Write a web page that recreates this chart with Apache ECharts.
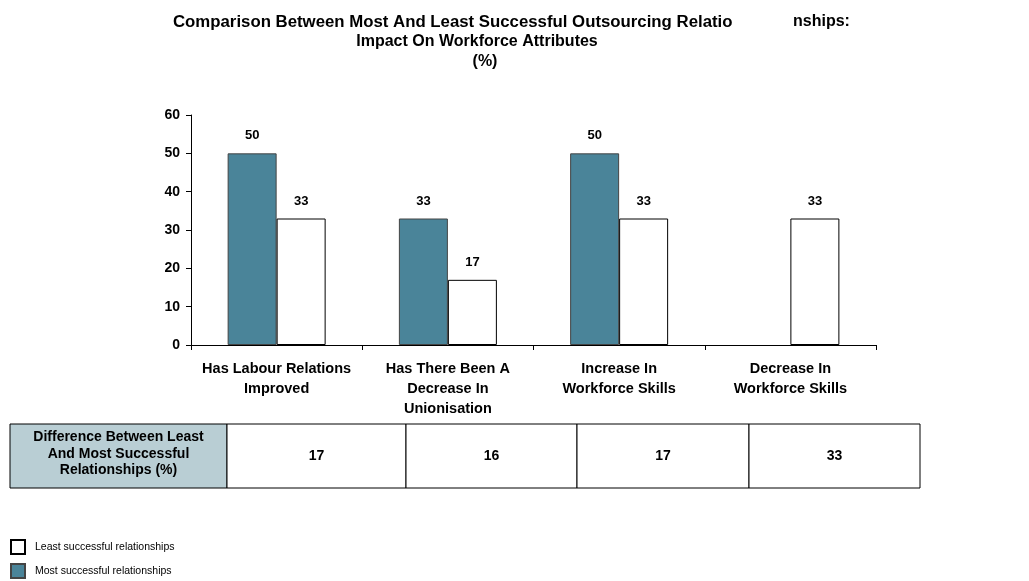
<!DOCTYPE html>
<html><head><meta charset="utf-8">
<script src="https://cdn.jsdelivr.net/npm/echarts@6/dist/echarts.min.js"></script>
<style>html,body{margin:0;padding:0;background:#fff}#c{width:1029px;height:581px}</style>
</head><body><div id="c"></div>
<script>
var categories = ['Has Labour Relations\nImproved', 'Has There Been A\nDecrease In\nUnionisation', 'Increase In\nWorkforce Skills', 'Decrease In\nWorkforce Skills'];
var mostSuccessful = [50, 33, 50, null];
var leastSuccessful = [33, 17, 33, 33];
var differences = [17, 16, 17, 33];
var tableLabel = 'Difference Between Least\nAnd Most Successful\nRelationships (%)';
var yTicks = [0, 10, 20, 30, 40, 50, 60];
var titleLine1 = 'Comparison Between Most And Least Successful Outsourcing Relatio';
var titleLine1b = 'nships:';
var titleLine2 = 'Impact On Workforce Attributes';
var titleLine3 = '(%)';

var FONT = '"Liberation Sans", Arial, sans-serif';
var chart = echarts.init(document.getElementById('c'), null, {renderer: 'canvas'});

// table graphic
var cellX = [10, 227, 406, 577, 749, 920];
var tY = 424, tH = 64;
var graphics = [];
graphics.push({type: 'rect', shape: {x: cellX[0], y: tY, width: cellX[1] - cellX[0], height: tH}, style: {fill: '#b9ced4', stroke: '#000', lineWidth: 1}});
graphics.push({type: 'text', x: (cellX[0] + cellX[1]) / 2, y: tY + tH / 2 - 2, style: {text: tableLabel, font: 'bold 14px ' + FONT, fill: '#000', align: 'center', verticalAlign: 'middle', lineHeight: 16.5}});
differences.forEach(function (d, i) {
  graphics.push({type: 'rect', shape: {x: cellX[i + 1], y: tY, width: cellX[i + 2] - cellX[i + 1], height: tH}, style: {fill: '#fff', stroke: '#000', lineWidth: 1}});
  graphics.push({type: 'text', x: (cellX[i + 1] + cellX[i + 2]) / 2, y: tY + tH / 2, style: {text: String(d), font: 'bold 14px ' + FONT, fill: '#000', align: 'center', verticalAlign: 'middle'}});
});

var titleStyle = {fontFamily: FONT, fontWeight: 'bold', fontSize: 16, color: '#000'};
var titleStyle1 = {fontFamily: FONT, fontWeight: 'bold', fontSize: 16.8, color: '#000'};
chart.setOption({
  animation: false,
  backgroundColor: '#fff',
  title: [
    {text: titleLine1, left: 173, top: 14, padding: 0, textStyle: titleStyle1},
    {text: titleLine1b, left: 793, top: 14, padding: 0, textStyle: titleStyle},
    {text: titleLine2, left: 477, top: 34, padding: 0, textAlign: 'center', textStyle: titleStyle},
    {text: titleLine3, left: 485, top: 54, padding: 0, textAlign: 'center', textStyle: titleStyle}
  ],
  legend: {
    orient: 'vertical', left: 10, top: 539, padding: 0, itemWidth: 14, itemHeight: 14, itemGap: 8,
    data: ['Least successful relationships', 'Most successful relationships'],
    textStyle: {fontFamily: FONT, fontSize: 10.5, color: '#000', padding: [0, 0, 0, 5]},
    icon: 'rect'
  },
  grid: {left: 191, right: 153, top: 115, bottom: 236},
  xAxis: {
    type: 'category', data: categories,
    axisLine: {lineStyle: {color: '#000', width: 1}},
    axisTick: {show: true, length: 5, interval: 0, lineStyle: {color: '#000'}},
    axisLabel: {interval: 0, color: '#000', fontFamily: FONT, fontWeight: 'bold', fontSize: 14.5, lineHeight: 20, margin: 14}
  },
  yAxis: {
    type: 'value', min: 0, max: 60, interval: 10,
    axisLine: {show: true, lineStyle: {color: '#000', width: 1}},
    axisTick: {show: true, length: 5, lineStyle: {color: '#000'}},
    splitLine: {show: false},
    axisLabel: {color: '#000', fontFamily: FONT, fontWeight: 'bold', fontSize: 14, margin: 11,
      formatter: function (v) { return yTicks.indexOf(v) >= 0 ? String(v) : ''; }}
  },
  series: [
    {name: 'Most successful relationships', type: 'bar', data: mostSuccessful, barWidth: 49, barGap: '0%',
      itemStyle: {color: '#4a8499', borderColor: '#444', borderWidth: 1},
      label: {show: true, position: 'top', distance: 11, color: '#000', fontFamily: FONT, fontWeight: 'bold', fontSize: 13}},
    {name: 'Least successful relationships', type: 'bar', data: leastSuccessful, barWidth: 49, barGap: '0%',
      itemStyle: {color: '#fff', borderColor: '#000', borderWidth: 1},
      label: {show: true, position: 'top', distance: 11, color: '#000', fontFamily: FONT, fontWeight: 'bold', fontSize: 13}}
  ],
  graphic: graphics
});
</script></body></html>
